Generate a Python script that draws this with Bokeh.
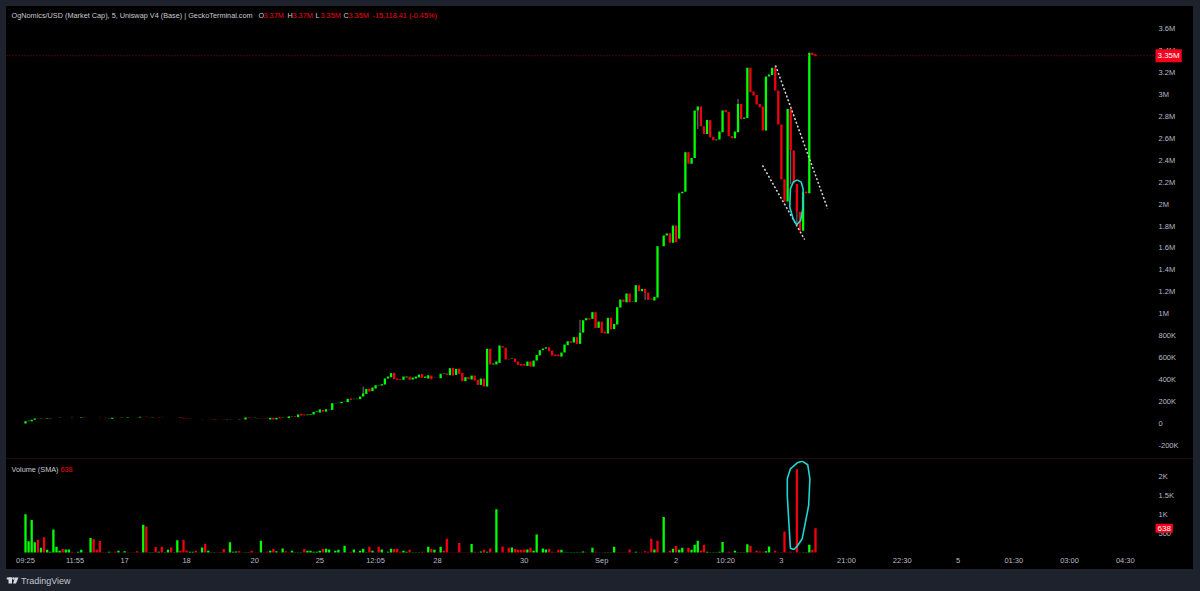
from bokeh.plotting import figure
from bokeh.layouts import column
from bokeh.models import Range1d, FixedTicker, Label, ColumnDataSource
from bokeh.embed import file_html
from bokeh.resources import INLINE

# ---------- data, market cap in thousands ----------
opens_a = [0,21,20,34,45,43,45,43,48,50,50,51,53,52,53,53,55,54,55,60,57,57,58,57,56,55,54,46,44,52,50,51,52,53,58,57,56,54,61,62,60,58,58,57,55,52,52,52,53,52,58,52,46,43,42,41,41,40,40,41,40,39,40,41,40,39,40,39,38,39,40,37,58,52,49,45,48,47,52,37,52,37,58,55,58,49,62,65,58,88,82,76,80,82,104,100,124,108,126]
closes_a = [21,24,34,45,43,45,43,48,50,50.5,51,52,52,53,53.5,54,54,55,60,57,57.5,58,57,56,55,54,53,47,52,50,51,52,53,57,57,56,54,61,62,60,58,58.5,57,55,53,52.5,52.5,53,52,52.5,53,48,43,42,41,40,40,39,41,40,39,40,39,40,39,40,39,38,39,40,42,55,52,50,52,47,46,45,48,52,37,52,46,58,57,65,65,58,82,73,73,82,86,106,110,128,108,130,128]
opens_b = [124,185,187,185,196,194,228,222,222,222,246,270,318,295,319,344,346,355,410,422,462,410,403,398,420,428,401,410,420,450,416,410,437,415,416,413,452,456,440,507,443,501,462,386,422,401,437,398,352,410,337,681,538,538,553,705,692,590,590,592,564,543,543,525,565,519,574,620,668,683,695,665,628,628,610,647,714,750,738,787,726,829,941,960,954,1015,872,929,838,820,966,860,902,1057,1130,1105,1185,1110,1106,1261,1206,1227,1194,1139,1121,1148,1616,1616,1714,1735,1647,1805,1684]
closes_b = [185,187,189,198,198,225,215,225,225,246,276,315,291,328,349,347,358,410,428,459,404,398,395,428,428,398,419,428,446,416,428,440,404,417,417,453,456,444,504,437,498,453,386,422,404,437,392,352,410,337,681,538,547,565,711,692,583,585,594,559,534,528,528,565,519,574,625,668,683,695,659,620,613,613,647,720,750,735,787,726,829,941,960,948,1015,869,929,826,820,963,857,908,1060,1130,1109,1185,1105,1113,1261,1206,1227,1188,1127,1130,1155,1616,1613,1714,1732,1647,1805,1653,2099]
opens_c = [2098,2113,2473,2369,2421,2853,2889,2710,2640,2767,2615,2582,2588,2655,2859,2843,2618,2600,2655,2913,2777,2786,3242,3026,2995,2913,2889,2670,3163,3178,3242,3035,2725,2226,2023,2868,2488,2184,1931,1758,2114,2099,3379,3366]
closes_c = [2113,2473,2369,2421,2853,2889,2710,2640,2767,2609,2582,2588,2661,2853,2837,2618,2600,2661,2913,2773,2789,3242,3020,2989,2907,2883,2670,3163,3181,3242,3035,2725,2226,2023,2868,2488,2190,1931,1758,2108,2099,3379,3360,3348]
opens = opens_a + opens_b + opens_c
closes = closes_a + closes_b + closes_c

wick_bar = [109,179,200,217,230,242,247,249]
wick_from = [276,829,1188,2853,2913,3242,2488,1931]
wick_to = [337,945,1127,2685,2959,3263,2184,1819]

# negative = down bar
signed_volumes = [1005,294,854,267,-338,125,-400,71,18,605,
151,45,-89,80,80,-18,-9,18,71,-9,
-9,383,-347,-71,-303,-9,-9,18,-9,-18,
45,-9,36,-9,-9,-9,-36,-9,730,-685,
9,9,-142,18,-151,9,71,-134,9,320,
-45,-338,-53,18,18,-45,-9,134,-231,45,
9,9,-9,9,-89,-9,267,18,27,-36,
-9,9,9,-45,-9,-9,312,-9,-18,45,
-89,36,-9,107,-36,-9,45,9,9,9,
-89,45,45,18,18,45,-89,98,80,-9,
45,71,-9,178,-9,-18,80,-9,45,98,
9,-151,45,-9,-151,80,-9,18,98,-89,
-89,-18,45,18,-71,9,9,9,-18,-9,
151,-89,71,-9,151,-45,-365,-9,-9,-9,
-249,-9,-9,-9,223,-18,-9,27,-71,18,
-107,-9,1139,-9,-160,-9,-125,134,-89,-71,
-71,-80,80,-125,45,472,-9,107,80,-89,
-18,-9,-71,71,9,9,9,9,9,9,
27,-9,-9,125,-18,-9,-9,9,9,9,
151,-9,-9,-9,-9,-80,-9,18,-9,-9,
-36,-18,-365,80,-312,-9,935,-9,-45,98,
-169,71,125,-9,-125,71,205,312,-45,-205,
18,9,9,9,18,276,-9,-18,-9,45,
9,9,9,214,-178,-9,-45,-27,-18,36,
160,-9,-45,-9,-9,-552,-9,-18,-9,-2189,
-9,9,9,205,-71,-641]

price_ticks = [-200,0,200,400,600,800,1000,1200,1400,1600,1800,2000,2200,2400,2600,2800,3000,3200,3400,3600]
price_labels = ["-200K","0","200K","400K","600K","800K","1M","1.2M","1.4M","1.6M","1.8M","2M","2.2M","2.4M","2.6M","2.8M","3M","3.2M","3.4M","3.6M"]
vol_ticks = [500,1000,1500,2000]
vol_labels = ["500","1K","1.5K","2K"]
time_ticks = [0,16,32,52,74,95,113,133,161,186,210,226,244,265,283,301,319,337,355]
time_labels = ["09:25","11:55","17","18","20","25","12:05","28","30","Sep","2","10:20","3","21:00","22:30","5","01:30","03:00","04:30"]

last_close = 3353
sma_volume = 638

# hand-drawn annotations
upper_trend_bar = [242.1, 258.9]
upper_trend_val = [3264, 1960]
lower_trend_bar = [237.9, 251.5]
lower_trend_val = [2352, 1677]
price_loop_bar = [249.1,250.4,251,251,250.2,248.9,247.8,246.7,246.9,247.8,249.1]
price_loop_val = [2221,2200,2139,1972,1851,1811,1866,1972,2139,2200,2221]
vol_loop_bar = [250.7,252.5,253.2,252.8,250.7,249.1,248,246.9,246.4,245.9,245.9,246.9,249.1,250.7]
vol_loop_val = [2403,2308,1939,1237,361,166,79,113,797,1500,1939,2203,2361,2403]

# ---------- style ----------
GREEN = "#00ff00"
RED = "#f2000f"
DARK = "#1e222d"
TXT = "#b8bbc4"
FONT = "Liberation Sans"
CYAN = "#1fd6d0"
STEP = 3.098
X0 = 25.0
BAR_W = 0.74

def bx(px):
    return (px - X0) / STEP
def py(px):
    return (423 - px) * 9.116
def vy(px):
    return (552 - px) / 0.038

x_range = Range1d(bx(6), bx(1193))

# ---------- price pane ----------
p = figure(width=1187, height=453, x_range=x_range, y_range=Range1d(py(459), py(6)),
           y_axis_location="right", x_axis_location=None, toolbar_location=None,
           output_backend="svg", background_fill_color="#000000", border_fill_color="#000000",
           min_border=0, outline_line_color=None,
           styles={"background-color": "#000"})
p.grid.visible = False

def style_axis(ax, ticks, labels, size="7.5px"):
    ax.ticker = FixedTicker(ticks=ticks)
    ax.major_label_overrides = dict(zip(ticks, labels))
    ax.axis_line_color = None
    ax.major_tick_line_color = None
    ax.minor_tick_line_color = None
    ax.major_tick_out = 0
    ax.major_tick_in = 0
    ax.major_label_text_color = TXT
    ax.major_label_text_font = FONT
    ax.major_label_text_font_size = size

style_axis(p.yaxis[0], price_ticks, price_labels)
p.yaxis[0].fixed_location = bx(1150)
p.yaxis[0].major_label_standoff = 8

idx = list(range(len(closes)))
cols = [GREEN if c >= o else RED for o, c in zip(opens, closes)]
src = ColumnDataSource(dict(x=idx, top=[max(o, c) for o, c in zip(opens, closes)],
                            bottom=[min(o, c) for o, c in zip(opens, closes)], color=cols))
p.segment(wick_bar, wick_from, wick_bar, wick_to, line_color="#787b86", line_width=1)
p.vbar(x="x", top="top", bottom="bottom", width=BAR_W, fill_color="color", line_color=None, source=src)

p.line([bx(6), bx(1153)], [last_close, last_close], line_color="#8c0a12", line_dash="1 2", line_width=1)
p.line(upper_trend_bar, upper_trend_val, line_color="#d8d8d8", line_width=1.5, line_dash="2 2")
p.line(lower_trend_bar, lower_trend_val, line_color="#d8d8d8", line_width=1.5, line_dash="2 2")
p.line(price_loop_bar, price_loop_val, line_color=CYAN, line_width=1.6)

def label(fig, yf, x_px, y_px, text, color=TXT, size="7.3px", **kw):
    fig.add_layout(Label(x=bx(x_px), y=yf(y_px), text=text, text_color=color, text_font=FONT,
                         text_font_size=size, text_baseline="middle", text_align="left", **kw))

label(p, py, 11, 15, "OgNomics/USD (Market Cap), 5, Uniswap V4 (Base) | GeckoTerminal.com", "#c8cad2")
for x_, t_, c_ in [(258, "O", "#c8cad2"), (263, "3.37M", RED), (287, "H", "#c8cad2"), (292, "3.37M", RED),
                   (315, "L", "#c8cad2"), (320, "3.35M", RED), (343, "C", "#c8cad2"), (348, "3.35M", RED),
                   (372, "-15,118.41 (-0.45%)", RED)]:
    label(p, py, x_, 15, t_, c_)
p.add_layout(Label(x=bx(1155), y=last_close, text="3.35M", text_color="#ffffff", text_font=FONT,
                   text_font_size="8px", text_baseline="middle", text_align="left",
                   background_fill_color="#f7001a", padding=2))

# ---------- volume pane ----------
v = figure(width=1187, height=110, x_range=x_range, y_range=Range1d(vy(553), vy(460)),
           y_axis_location="right", toolbar_location=None, output_backend="svg",
           background_fill_color="#000000", border_fill_color="#000000",
           min_border_left=0, min_border_right=0, min_border_top=1, min_border_bottom=16,
           outline_line_color=None,
           styles={"background-color": "#000", "box-shadow": "0 -1px 0 0 #220a10"})
v.grid.visible = False
style_axis(v.yaxis[0], vol_ticks, vol_labels)
v.yaxis[0].fixed_location = bx(1150)
v.yaxis[0].major_label_standoff = 8
style_axis(v.xaxis[0], time_ticks, time_labels)
v.xaxis[0].major_label_standoff = 2

vsrc = ColumnDataSource(dict(x=idx, top=[abs(a) for a in signed_volumes],
                             color=[GREEN if a > 0 else RED for a in signed_volumes]))
v.vbar(x="x", top="top", bottom=0, width=BAR_W, fill_color="color", line_color=None, source=vsrc)
v.line(vol_loop_bar, vol_loop_val, line_color=CYAN, line_width=1.6)

label(v, vy, 11, 469, "Volume (SMA)", "#c8cad2")
label(v, vy, 60, 469, str(sma_volume), RED)
v.add_layout(Label(x=bx(1155), y=sma_volume, text=str(sma_volume), text_color="#ffffff", text_font=FONT,
                   text_font_size="8px", text_baseline="middle", text_align="left",
                   background_fill_color="#f7001a", padding=2))

# ---------- footer ----------
f = figure(width=1187, height=21, x_range=Range1d(6, 1193), y_range=Range1d(590, 569),
           x_axis_location=None, y_axis_location=None, toolbar_location=None, output_backend="svg",
           background_fill_color=DARK, border_fill_color=DARK, outline_line_color=None,
           min_border=0, styles={"background-color": DARK})
f.grid.visible = False
f.quad(left=[6], right=[11.5], top=[577], bottom=[579], fill_color="#d8dae0", line_color=None)
f.quad(left=[8], right=[11.5], top=[577], bottom=[583], fill_color="#d8dae0", line_color=None)
f.scatter([13], [578], size=2.5, fill_color="#d8dae0", line_color=None)
f.patch([14.5, 18, 15.5, 12.5], [577, 577, 583, 583], fill_color="#d8dae0", line_color=None)
f.add_layout(Label(x=20.5, y=580, text="TradingView", text_color="#c4c6ce", text_font=FONT,
                   text_font_size="9px", text_baseline="middle", text_align="left"))

page = column(p, v, f, spacing=0, margin=(6, 0, 0, 6), styles={"box-shadow": "0 0 0 60px " + DARK})
open("out.html", "w").write(file_html(page, INLINE))
